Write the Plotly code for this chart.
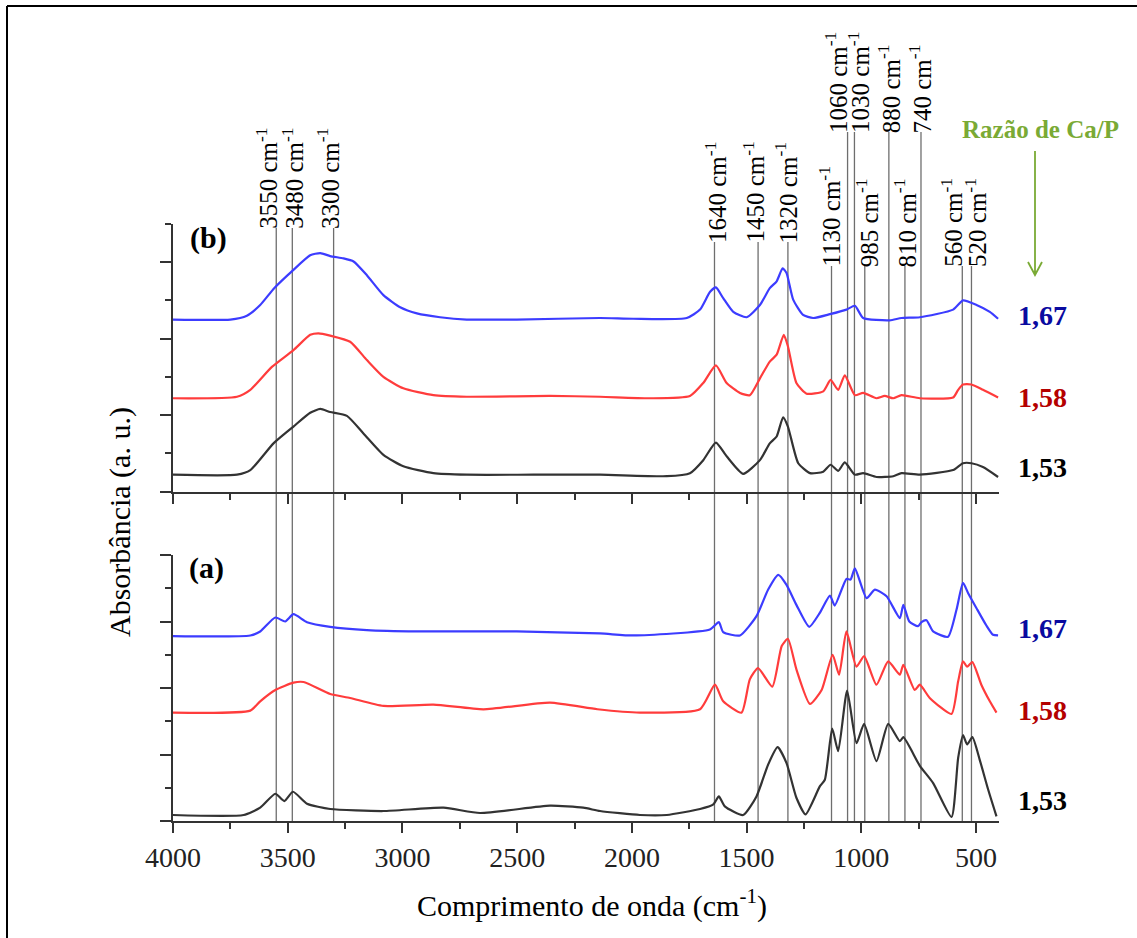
import plotly.graph_objects as go

# ---------------- data (wavenumber in cm-1, absorbance in a.u.) ----------------
# panel (b)
b_167_wn = [4000, 3750, 3678, 3620, 3559, 3475, 3402, 3358, 3315, 3257, 3213, 3155, 3083, 3010, 2937, 2836, 2720, 2502, 2139, 1994,
            1761, 1703, 1660, 1634, 1602, 1558, 1500, 1442, 1399, 1369, 1343, 1326, 1297, 1254, 1210, 1137, 1065, 1028, 992, 876,
            825, 745, 600, 557, 498, 440, 404]
b_167_ab = [2.25, 2.25, 2.30, 2.44, 2.66, 2.90, 3.09, 3.12, 3.08, 3.05, 3.01, 2.83, 2.57, 2.41, 2.33, 2.28, 2.25, 2.25, 2.27, 2.26,
            2.27, 2.38, 2.61, 2.67, 2.53, 2.35, 2.28, 2.44, 2.66, 2.75, 2.92, 2.86, 2.51, 2.31, 2.27, 2.32, 2.38, 2.43, 2.27, 2.24,
            2.27, 2.28, 2.38, 2.50, 2.44, 2.35, 2.26]

b_158_wn = [4000, 3721, 3663, 3569, 3475, 3402, 3366, 3315, 3228, 3155, 3083, 2996, 2865, 2720, 2357, 2139, 1921, 1747, 1689, 1634,
            1587, 1529, 1486, 1442, 1399, 1369, 1338, 1320, 1283, 1239, 1166, 1134, 1101, 1072, 1028, 992, 934, 898, 861, 825,
            745, 600, 578, 557, 520, 470, 404]
b_158_ab = [1.22, 1.24, 1.33, 1.63, 1.85, 2.05, 2.07, 2.04, 1.96, 1.72, 1.50, 1.35, 1.26, 1.24, 1.25, 1.24, 1.22, 1.25, 1.42, 1.65,
            1.42, 1.29, 1.26, 1.48, 1.70, 1.79, 2.05, 1.90, 1.42, 1.28, 1.31, 1.46, 1.33, 1.52, 1.26, 1.29, 1.22, 1.25, 1.22, 1.26,
            1.22, 1.23, 1.33, 1.40, 1.40, 1.33, 1.23]

b_153_wn = [4000, 3721, 3663, 3562, 3475, 3402, 3358, 3315, 3242, 3170, 3083, 2996, 2865, 2720, 2429, 2139, 1848, 1747, 1689, 1634,
            1587, 1515, 1442, 1399, 1369, 1341, 1320, 1275, 1224, 1166, 1134, 1101, 1072, 1028, 992, 934, 861, 825, 745, 600,
            557, 520, 470, 404]
b_153_ab = [0.22, 0.22, 0.28, 0.63, 0.85, 1.03, 1.08, 1.04, 0.99, 0.76, 0.48, 0.33, 0.24, 0.22, 0.22, 0.22, 0.20, 0.24, 0.41, 0.64,
            0.46, 0.23, 0.41, 0.63, 0.72, 0.97, 0.85, 0.37, 0.24, 0.26, 0.35, 0.27, 0.38, 0.22, 0.24, 0.19, 0.20, 0.24, 0.22, 0.28,
            0.37, 0.37, 0.32, 0.19]

# panel (a)
a_167_wn = [4000, 3663, 3620, 3554, 3511, 3475, 3416, 3315, 3155, 2937, 2502, 2139, 1994, 1660, 1621, 1602, 1529, 1457, 1406, 1362,
            1326, 1283, 1227, 1181, 1137, 1116, 1065, 1047, 1028, 977, 941, 890, 832, 817, 791, 753, 738, 716, 687, 622,
            585, 557, 535, 498, 455, 426, 404]
a_167_ab = [2.78, 2.79, 2.85, 3.06, 3.00, 3.11, 2.99, 2.92, 2.87, 2.85, 2.85, 2.82, 2.79, 2.88, 2.99, 2.84, 2.79, 3.08, 3.48, 3.70,
            3.55, 3.25, 2.92, 3.13, 3.39, 3.24, 3.64, 3.63, 3.80, 3.35, 3.48, 3.38, 3.05, 3.25, 3.00, 2.93, 2.99, 3.02, 2.85, 2.77,
            3.18, 3.58, 3.43, 3.20, 2.94, 2.80, 2.79]

a_158_wn = [4000, 3663, 3620, 3554, 3475, 3431, 3315, 3228, 3083, 2865, 2647, 2357, 2150, 1965, 1703, 1638, 1602, 1522, 1486, 1450,
            1388, 1347, 1320, 1283, 1224, 1173, 1125, 1097, 1065, 1021, 988, 934, 883, 832, 817, 767, 745, 702, 607, 578,
            557, 539, 516, 477, 440, 411]
a_158_ab = [1.63, 1.66, 1.80, 1.97, 2.08, 2.09, 1.91, 1.85, 1.73, 1.75, 1.68, 1.78, 1.68, 1.63, 1.68, 2.05, 1.80, 1.63, 2.13, 2.30,
            2.02, 2.63, 2.74, 2.28, 1.76, 1.97, 2.50, 2.20, 2.85, 2.32, 2.48, 2.05, 2.40, 2.20, 2.35, 1.97, 2.05, 1.85, 1.61, 2.10,
            2.40, 2.32, 2.39, 2.05, 1.80, 1.63]

a_153_wn = [4000, 3692, 3620, 3554, 3515, 3477, 3416, 3315, 3083, 2821, 2662, 2357, 2212, 2139, 1965, 1848, 1703, 1645, 1621, 1595,
            1515, 1457, 1406, 1365, 1326, 1283, 1243, 1181, 1159, 1127, 1101, 1062, 1021, 988, 934, 883, 832, 817, 745, 687,
            607, 578, 557, 539, 516, 484, 447, 411]
a_153_ab = [0.09, 0.09, 0.20, 0.41, 0.30, 0.44, 0.26, 0.18, 0.15, 0.20, 0.12, 0.23, 0.20, 0.15, 0.09, 0.09, 0.18, 0.25, 0.37, 0.22,
            0.09, 0.37, 0.85, 1.11, 0.87, 0.35, 0.10, 0.52, 0.62, 1.39, 1.05, 1.96, 1.17, 1.46, 0.90, 1.46, 1.20, 1.26, 0.83, 0.57,
            0.06, 0.95, 1.29, 1.15, 1.26, 0.92, 0.47, 0.07]

# marked bands
band_wn = [3550, 3480, 3300, 1640, 1450, 1320, 1130, 1060, 1030, 985, 880, 810, 740, 560, 520]
band_labels = ["3550 cm<sup>-1</sup>", "3480 cm<sup>-1</sup>", "3300 cm<sup>-1</sup>", "1640 cm<sup>-1</sup>",
               "1450 cm<sup>-1</sup>", "1320 cm<sup>-1</sup>", "1130 cm<sup>-1</sup>", "1060 cm<sup>-1</sup>",
               "1030 cm<sup>-1</sup>", "985 cm<sup>-1</sup>", "880 cm<sup>-1</sup>", "810 cm<sup>-1</sup>",
               "740 cm<sup>-1</sup>", "560 cm<sup>-1</sup>", "520 cm<sup>-1</sup>"]
ratio_labels = ["1,67", "1,58", "1,53"]
x_ticks = [4000, 3500, 3000, 2500, 2000, 1500, 1000, 500]

# ---------------- styling ----------------
W, H = 1137, 938
ML, MR, MT, MB = 173, 138, 224, 117
PW, PH = W - ML - MR, H - MT - MB
SERIF = "Liberation Serif, Times New Roman, serif"
C_BLUE, C_RED, C_BLACK = "#3c3cff", "#ff3c3c", "#333333"
LBL_BLUE, LBL_RED, LBL_BLACK = "#0a0aa0", "#b40000", "#000000"
GREEN = "#7aaa35"
AX = "#333333"


def px_x(p):
    return (p - ML) / PW


def px_y(p):
    return (H - MB - p) / PH


# top of each band line (pixels) and label x offset (px)
band_top_px = [228, 228, 228, 242, 242, 242, 266, 132, 132, 266, 132, 266, 132, 266, 266]
band_dx = [-9, 1, -5, 1, -5, -2, -2, -11, 5, 2, 1, 0, 0, -11, 4]

fig = go.Figure()

series = [
    (b_167_wn, b_167_ab, C_BLUE, "x2", "y2"),
    (b_158_wn, b_158_ab, C_RED, "x2", "y2"),
    (b_153_wn, b_153_ab, C_BLACK, "x2", "y2"),
    (a_167_wn, a_167_ab, C_BLUE, "x", "y"),
    (a_158_wn, a_158_ab, C_RED, "x", "y"),
    (a_153_wn, a_153_ab, C_BLACK, "x", "y"),
]
for wn, ab, col, xa, ya in series:
    fig.add_trace(go.Scatter(x=wn, y=ab, mode="lines", xaxis=xa, yaxis=ya,
                             line=dict(color=col, width=2.2, shape="spline", smoothing=0.55),
                             showlegend=False, hoverinfo="skip"))

upper_dom = [px_y(491.5), 1.0]
lower_dom = [0.0, px_y(555)]

axis_common = dict(showline=True, linecolor=AX, linewidth=2, ticks="outside", tickcolor=AX,
                   tickwidth=2, showgrid=False, zeroline=False)
minor_x = dict(dtick=250, ticklen=6, tickwidth=2, tickcolor=AX, ticks="outside")
minor_y = dict(dtick=0.5, ticklen=6, tickwidth=2, tickcolor=AX, ticks="outside")

fig.update_layout(
    width=W, height=H,
    margin=dict(l=ML, r=MR, t=MT, b=MB),
    paper_bgcolor="white", plot_bgcolor="white",
    font=dict(family=SERIF, color="black"),
    xaxis=dict(range=[4000, 400], anchor="y", tickvals=x_ticks, ticklen=10,
               tickfont=dict(family=SERIF, size=28, color="#222"), minor=minor_x, **axis_common),
    xaxis2=dict(range=[4000, 400], anchor="y2", matches="x", tickvals=x_ticks, ticklen=10,
                showticklabels=False, minor=minor_x, **axis_common),
    yaxis=dict(domain=lower_dom, range=[0, 4], dtick=1, ticklen=11, showticklabels=False,
               minor=minor_y, **axis_common),
    yaxis2=dict(domain=upper_dom, range=[0, 3.5], dtick=1, ticklen=11, showticklabels=False, anchor="x2",
                minor=minor_y, **axis_common),
)

shapes = []
annotations = []
for wn, lab, top, dx in zip(band_wn, band_labels, band_top_px, band_dx):
    shapes.append(dict(type="line", xref="x", yref="paper", x0=wn, x1=wn, y0=0.0, y1=px_y(top),
                       line=dict(color="#6e6e6e", width=1.3), layer="below"))
    annotations.append(dict(x=wn, xref="x", y=px_y(top), yref="paper", text=lab, showarrow=False,
                            textangle=-90, xanchor="center", yanchor="bottom", yshift=-3, xshift=dx,
                            font=dict(family=SERIF, size=25, color="black")))

# outer frame (top & left edges)
shapes.append(dict(type="line", xref="paper", yref="paper", x0=px_x(7), x1=px_x(W + 5), y0=px_y(6), y1=px_y(6),
                   line=dict(color="black", width=2)))
shapes.append(dict(type="line", xref="paper", yref="paper", x0=px_x(7), x1=px_x(7), y0=px_y(6), y1=px_y(H + 5),
                   line=dict(color="black", width=2)))

# green arrow
ax_x = px_x(1035)
shapes.append(dict(type="path", xref="paper", yref="paper",
                   path=f"M {ax_x},{px_y(151)} L {ax_x},{px_y(275)} M {px_x(1028)},{px_y(262)} L {ax_x},{px_y(275)} L {px_x(1042)},{px_y(262)}",
                   line=dict(color=GREEN, width=1.8)))


def note(px, py, text, size, color="black", angle=0):
    return dict(x=px_x(px), y=px_y(py), xref="paper", yref="paper", text=text, showarrow=False,
                xanchor="center", yanchor="middle", textangle=angle,
                font=dict(family=SERIF, size=size, color=color))


annotations.append(note(1040, 129, "<b>Razão de Ca/P</b>", 25, GREEN))

ratio_cols = [LBL_BLUE, LBL_RED, LBL_BLACK]
upper_lbl_y = [315, 397, 467]
lower_lbl_y = [628, 710, 800]
for lab, col, yu, yl in zip(ratio_labels, ratio_cols, upper_lbl_y, lower_lbl_y):
    for yy in (yu, yl):
        annotations.append(note(1042, yy, f"<b>{lab}</b>", 28, col))

annotations.append(note(208, 238, "<b>(b)</b>", 30))
annotations.append(note(206, 568, "<b>(a)</b>", 30))
annotations.append(note(120, 522, "Absorbância (a. u.)", 30, angle=-90))
annotations.append(note(592, 903, "Comprimento de onda (cm<sup>-1</sup>)", 30))

fig.update_layout(shapes=shapes, annotations=annotations)
fig.write_html("out.html", config={"displayModeBar": False},
               post_script="document.body.style.margin='0px';")
